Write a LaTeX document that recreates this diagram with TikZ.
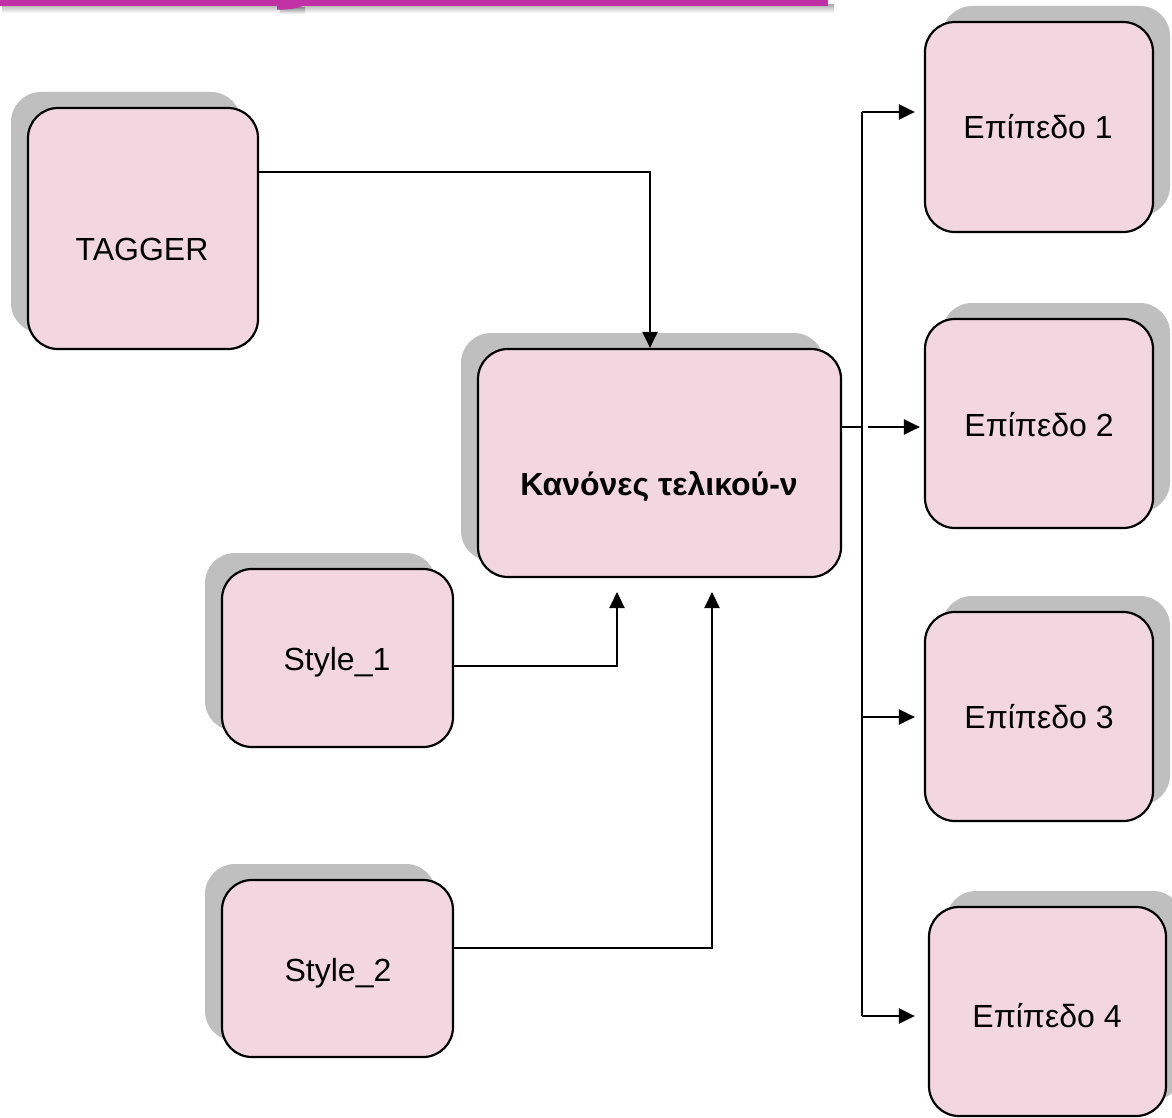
\documentclass[tikz,border=0pt]{standalone}
\usepackage{fontspec}
\setmainfont{Liberation Sans}
\usetikzlibrary{arrows.meta,shadows}
\definecolor{boxpink}{RGB}{242,215,224}
\definecolor{shadowgray}{RGB}{191,191,191}
\definecolor{barmagenta}{RGB}{194,48,166}
\tikzset{
  block/.style={draw=black, line width=2.2pt, fill=boxpink, rounded corners=30pt,
    inner sep=0pt, shape=rectangle},
  leftshadow/.style={drop shadow={shadow xshift=-17pt, shadow yshift=16pt,
    fill=shadowgray, opacity=1}},
  rightshadow/.style={drop shadow={shadow xshift=17pt, shadow yshift=16pt,
    fill=shadowgray, opacity=1}},
  caption/.style={inner sep=0pt, anchor=base, font=\fontsize{32}{38}\selectfont},
  conn/.style={line width=2.2pt, draw=black},
  arr/.style={conn, -{Triangle[length=16pt,width=15pt]}}
}
\begin{document}
\begin{tikzpicture}[x=1pt, y=-1pt]
  % canvas
  \fill[white] (0,0) rectangle (1172,1118);
  \useasboundingbox (0,0) rectangle (1172,1118);
  \clip (0,0) rectangle (1172,1118);

  % title bar with its soft shadow
  \shade[top color=black!30, bottom color=white] (2,5) rectangle (834,13);
  \shade[top color=black!40, bottom color=white] (280,8) rectangle (305,14);
  \fill[barmagenta] (0,0) rectangle (828,6);
  \fill[barmagenta] (277,5) -- (277,9.5) .. controls (287,10) and (298,8.5) .. (305,5) -- cycle;

  % blocks
  \node[block, leftshadow, minimum width=230pt, minimum height=241pt] (tag) at (143,228.5) {};
  \node[block, leftshadow, minimum width=363pt, minimum height=228pt] (kan) at (659.5,463) {};
  \node[block, leftshadow, minimum width=231pt, minimum height=178pt] (s1) at (337.5,658) {};
  \node[block, leftshadow, minimum width=231pt, minimum height=177pt] (s2) at (337.5,968.5) {};
  \node[block, rightshadow, minimum width=228pt, minimum height=210pt] (ep1) at (1039,127) {};
  \node[block, rightshadow, minimum width=228pt, minimum height=209pt] (ep2) at (1039,423.5) {};
  \node[block, rightshadow, minimum width=228pt, minimum height=209pt] (ep3) at (1039,716.5) {};
  \node[block, rightshadow, minimum width=237pt, minimum height=209pt] (ep4) at (1047.5,1011.5) {};

  % block texts
  \node[caption] (ttag) at (142,260) {TAGGER};
  \node[caption, font=\fontsize{32}{38}\selectfont\bfseries] (tkan) at (659,495) {Κανόνες τελικού-ν};
  \node[caption] (ts1) at (337,670) {Style\_1};
  \node[caption] (ts2) at (338,981) {Style\_2};
  \node[caption] (tep1) at (1038,139) {Επίπεδο 1};
  \node[caption] (tep2) at (1039,436) {Επίπεδο 2};
  \node[caption] (tep3) at (1039,728) {Επίπεδο 3};
  \node[caption] (tep4) at (1047,1027) {Επίπεδο 4};

  % connector points
  \coordinate (t1) at (650,172);
  \coordinate (s1in) at (617,592);
  \coordinate (s2in) at (712,592);
  \coordinate (b1) at (862,112);
  \coordinate (b2) at (862,427);
  \coordinate (b3) at (862,717);
  \coordinate (b4) at (862,1016);

  % inputs into the rule block
  \draw[arr] (tag.east |- t1) -| (kan.north -| t1);
  \draw[arr] (s1.east |- 0,666) -| (s1in);
  \draw[arr] (s2.east |- 0,948) -| (s2in);

  % distribution bus to the levels
  \draw[conn] (b1) -- (b4);
  \draw[conn] (kan.east |- b2) -- (b2);
  \draw[arr, shorten >=9pt] (b1) -- (ep1.west |- b1);
  \draw[arr, shorten >=4pt] ([xshift=6pt]b2) -- (ep2.west |- b2);
  \draw[arr, shorten >=9pt] (b3) -- (ep3.west |- b3);
  \draw[arr, shorten >=13pt] (b4) -- (ep4.west |- b4);
\end{tikzpicture}
\end{document}
